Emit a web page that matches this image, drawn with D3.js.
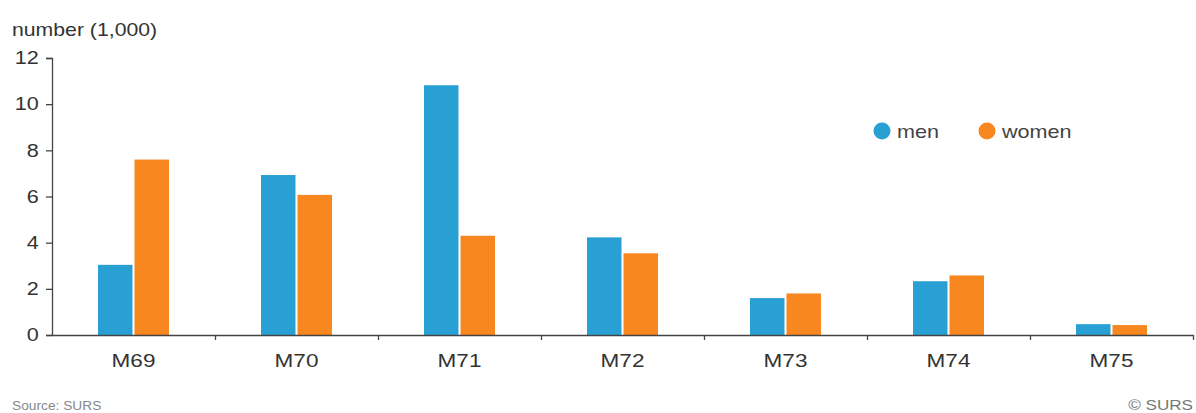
<!DOCTYPE html>
<html>
<head>
<meta charset="utf-8">
<script src="https://cdn.jsdelivr.net/npm/d3@7"></script>
<style>
  body { margin: 0; background: #fff; }
  svg text { font-family: "Liberation Sans", Arial, sans-serif; }
</style>
</head>
<body>
<svg id="chart"></svg>
<script>
const categories = ["M69", "M70", "M71", "M72", "M73", "M74", "M75"];
const seriesNames = ["men", "women"];
const men = [3.04, 6.93, 10.82, 4.23, 1.6, 2.33, 0.47];
const women = [7.6, 6.07, 4.3, 3.54, 1.8, 2.58, 0.43];
const yTicks = [0, 2, 4, 6, 8, 10, 12];

const width = 1196, height = 413;
const margin = { top: 58, right: 3, bottom: 78, left: 52 };
const innerW = width - margin.left - margin.right;
const innerH = height - margin.top - margin.bottom;
const colors = { men: "#28a0d4", women: "#f8871f" };
const stretch = "scale(1.2,1)";

const svg = d3.select("#chart").attr("width", width).attr("height", height);
const g = svg.append("g").attr("transform", "translate(" + margin.left + "," + margin.top + ")");

const x0 = d3.scaleBand().domain(categories).range([0, innerW]);
const x1 = d3.scaleBand().domain(seriesNames).range([0, x0.bandwidth()])
  .paddingInner(0.055).paddingOuter(1.26);
const y = d3.scaleLinear().domain([0, 12]).range([innerH, 0]);

const rows = categories.map((c, i) => ({ cat: c, men: men[i], women: women[i] }));

g.selectAll("g.cat")
  .data(rows)
  .join("g")
  .attr("class", "cat")
  .attr("transform", (d) => "translate(" + x0(d.cat) + ",0)")
  .selectAll("rect")
  .data((d) => seriesNames.map((k) => ({ key: k, value: d[k] })))
  .join("rect")
  .attr("x", (d) => x1(d.key))
  .attr("width", x1.bandwidth())
  .attr("y", (d) => y(d.value))
  .attr("height", (d) => innerH - y(d.value))
  .attr("fill", (d) => colors[d.key]);

// y axis
const yAxis = g.append("g").call(
  d3.axisLeft(y).tickValues(yTicks).tickSize(6).tickSizeOuter(6).tickPadding(5)
);
yAxis.selectAll("path, line").attr("stroke", "#444").attr("stroke-width", 1.3);
yAxis.selectAll("text")
  .attr("font-size", 18).attr("fill", "#333")
  .attr("transform", stretch);

// x axis: boundary ticks
const xb = d3.scaleLinear().domain([0, categories.length]).range([0, innerW]);
const xAxis = g.append("g").attr("transform", "translate(0," + innerH + ")")
  .call(d3.axisBottom(xb).tickValues(d3.range(1, categories.length + 1)).tickSize(5).tickSizeOuter(0).tickFormat(""));
xAxis.selectAll("path, line").attr("stroke", "#444").attr("stroke-width", 1.3);

// category labels
const xLabels = g.append("g").attr("transform", "translate(0," + innerH + ")")
  .call(d3.axisBottom(x0).tickSize(0).tickPadding(19));
xLabels.select(".domain").remove();
xLabels.selectAll("text")
  .attr("font-size", 18.5).attr("fill", "#333")
  .attr("transform", "scale(1.22,1)");

// unit label
svg.append("text")
  .attr("x", 0).attr("y", 36)
  .attr("font-size", 18).attr("fill", "#333")
  .attr("transform", "translate(12,0) scale(1.18,1)")
  .text("number (1,000)");

// legend
const legend = svg.append("g").attr("transform", "translate(882,131)");
const li = legend.selectAll("g").data(seriesNames).join("g")
  .attr("transform", (d, i) => "translate(" + i * 105 + ",0)");
li.append("circle").attr("r", 8.5).attr("fill", (d) => colors[d]);
li.append("text")
  .attr("x", 0).attr("y", 7)
  .attr("font-size", 18).attr("fill", "#444")
  .attr("transform", "translate(15,0) " + stretch)
  .text((d) => d);

// footer
svg.append("text")
  .attr("x", 0).attr("y", 410)
  .attr("font-size", 12.5).attr("fill", "#888")
  .attr("transform", "translate(12,0) scale(1.1,1)")
  .text("Source: SURS");
svg.append("text")
  .attr("x", 0).attr("y", 410)
  .attr("font-size", 15).attr("fill", "#777")
  .attr("text-anchor", "end")
  .attr("transform", "translate(1193,0) scale(1.14,1)")
  .text("© SURS");
</script>
</body>
</html>
